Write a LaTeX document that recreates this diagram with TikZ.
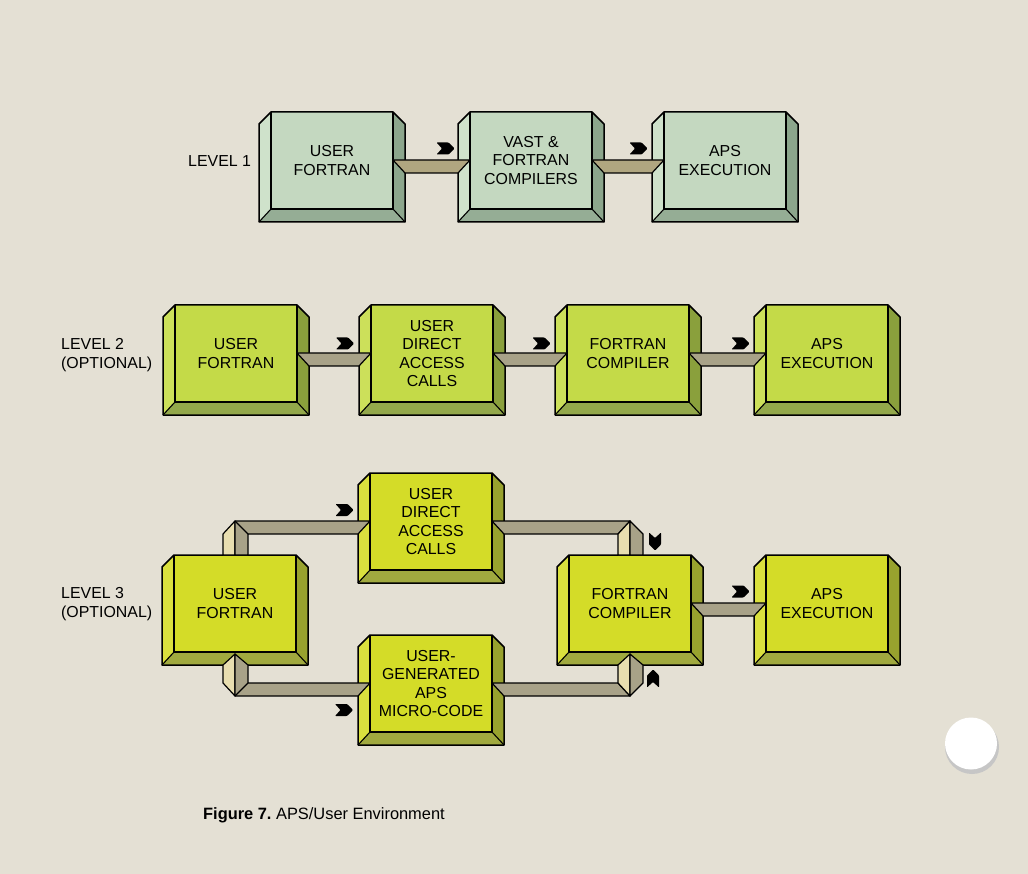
\documentclass[tikz,border=0pt]{standalone}
\usepackage{fontspec}
\setmainfont{Liberation Sans}
\usetikzlibrary{calc}
\frenchspacing
\definecolor{bg}{HTML}{E4E0D4}
\definecolor{faceA}{HTML}{C4D8C0}
\definecolor{lightA}{HTML}{CFE2CB}
\definecolor{darkA}{HTML}{8CA68C}
\definecolor{faceB}{HTML}{C4DA48}
\definecolor{lightB}{HTML}{CCE05A}
\definecolor{darkB}{HTML}{8AA03C}
\definecolor{faceC}{HTML}{D4DC28}
\definecolor{lightC}{HTML}{DAE03E}
\definecolor{darkC}{HTML}{98A22E}
\definecolor{barA}{HTML}{B0A680}
\definecolor{barB}{HTML}{A8A288}
\definecolor{cream}{HTML}{E8DEB0}
\tikzset{
  boxframe/.style={inner sep=0pt, outer sep=0pt, minimum width=146pt, minimum height=110pt},
  boxtext/.style={align=center, font=\fontsize{15.9}{18.3}\selectfont, inner sep=0pt},
  lbl/.style={align=left, font=\fontsize{15.9}{18.3}\selectfont, inner sep=0pt},
  outline/.style={draw=black, line width=1.5pt, line join=round},
  innerline/.style={draw=black, line width=1.1pt},
  barline/.style={draw=black, line width=1.2pt, line join=round},
  chev/.style={fill=black, rounded corners=0.8pt},
}
% #1 name, #2 left, #3 top, #4 face, #5 light, #6 dark, #7 text
\newcommand\bevbox[7]{%
  \node[boxframe, anchor=north west] (#1) at (#2,#3) {};
  \fill[#4] ({#2+12},#3) rectangle ({#2+134},{#3+97});
  \fill[#5] (#2,{#3+12}) -- ({#2+12},#3) -- ({#2+12},{#3+97}) -- (#2,{#3+110}) -- cycle;
  \fill[#6] ({#2+134},#3) -- ({#2+146},{#3+12}) -- ({#2+146},{#3+110}) -- ({#2+134},{#3+97}) -- cycle;
  \fill[#6!92!white] (#2,{#3+110}) -- ({#2+12},{#3+97}) -- ({#2+134},{#3+97}) -- ({#2+146},{#3+110}) -- cycle;
  \draw[innerline] ({#2+12},#3) -- ({#2+12},{#3+97}) -- ({#2+134},{#3+97}) -- ({#2+134},#3);
  \draw[innerline] ({#2+12},{#3+97}) -- (#2,{#3+110}) ({#2+134},{#3+97}) -- ({#2+146},{#3+110});
  \draw[outline] (#2,{#3+12}) -- ({#2+12},#3) -- ({#2+134},#3) -- ({#2+146},{#3+12}) -- ({#2+146},{#3+110}) -- (#2,{#3+110}) -- cycle;
  \node[boxtext] (#1-t) at ({#2+73},{#3+48.5}) {#7};
}
% horizontal connector from box #1 to box #2, fill #3
\newcommand\hconn[3]{%
  \draw[barline, fill=#3] ($(#1.north east)+(-12,48)$) -- ($(#2.north west)+(12,48)$)
     -- ($(#2.north west)+(0,61)$) -- ($(#1.north east)+(0,61)$) -- cycle;
}
% chevron arrow: x, y, rotation
\newcommand\chevr[3]{%
  \fill[chev, shift={(#1,#2)}, rotate=#3] (-9,-6) -- (3,-6) -- (9,0) -- (3,6) -- (-9,6) -- (-3.5,0) -- cycle;
}
\begin{document}
\begin{tikzpicture}[x=1pt, y=-1pt]
\fill[bg] (0,0) rectangle (1028,874);
\useasboundingbox (0,0) rectangle (1028,874);

% ---------- Level 1 ----------
\node[lbl, anchor=west] (lv1) at (188,161) {LEVEL 1};
\bevbox{a1}{259}{112}{faceA}{lightA}{darkA}{USER\\FORTRAN}
\bevbox{b1}{458}{112}{faceA}{lightA}{darkA}{VAST \&\\FORTRAN\\COMPILERS}
\bevbox{c1}{652}{112}{faceA}{lightA}{darkA}{APS\\EXECUTION}
\hconn{a1}{b1}{barA}
\hconn{b1}{c1}{barA}
\chevr{445.5}{148.5}{0}
\chevr{638.5}{148.5}{0}

% ---------- Level 2 ----------
\node[lbl, anchor=west] (lv2) at (61,355) {LEVEL 2\\(OPTIONAL)};
\bevbox{a2}{163}{305}{faceB}{lightB}{darkB}{USER\\FORTRAN}
\bevbox{b2}{359}{305}{faceB}{lightB}{darkB}{USER\\DIRECT\\ACCESS\\CALLS}
\bevbox{c2}{555}{305}{faceB}{lightB}{darkB}{FORTRAN\\COMPILER}
\bevbox{d2}{754}{305}{faceB}{lightB}{darkB}{APS\\EXECUTION}
\hconn{a2}{b2}{barB}
\hconn{b2}{c2}{barB}
\hconn{c2}{d2}{barB}
\chevr{345}{343.5}{0}
\chevr{541.5}{343.5}{0}
\chevr{740.5}{343.5}{0}

% ---------- Level 3 ----------
\node[lbl, anchor=west] (lv3) at (61,604) {LEVEL 3\\(OPTIONAL)};
\bevbox{u3}{162}{555}{faceC}{lightC}{darkC}{USER\\FORTRAN}
\bevbox{t3}{358}{473}{faceC}{lightC}{darkC}{USER\\DIRECT\\ACCESS\\CALLS}
\bevbox{c3}{557}{555}{faceC}{lightC}{darkC}{FORTRAN\\COMPILER}
\bevbox{a3}{754}{555}{faceC}{lightC}{darkC}{APS\\EXECUTION}
\bevbox{g3}{358}{635}{faceC}{lightC}{darkC}{USER-\\GENERATED\\APS\\MICRO-CODE}
\hconn{c3}{a3}{barB}

% top-left elbow: u3 -> t3
\coordinate (e1) at ($(u3.north west)+(61,0)$);
\coordinate (e1y) at ($(t3.north west)+(0,48)$);
\draw[barline, fill=cream] ($(e1 |- e1y)+(0,13)$) -- ($(e1 |- e1y)+(12,0)$) -- ($(e1)+(12,0)$) -- (e1) -- cycle;
\draw[barline, fill=barB] ($(e1 |- e1y)+(12,0)$) -- ($(t3.north west)+(12,48)$) -- ($(t3.north west)+(0,61)$)
   -- ($(e1 |- e1y)+(25,13)$) -- ($(e1)+(25,0)$) -- ($(e1)+(12,0)$) -- cycle;
\draw[innerline] ($(e1 |- e1y)+(12,0)$) -- ($(e1 |- e1y)+(25,13)$);

% top-right elbow: t3 -> c3
\coordinate (e2) at ($(c3.north west)+(61,0)$);
\draw[barline, fill=barB] ($(t3.north east)+(-12,48)$) -- ($(e2 |- e1y)+(12,0)$) -- ($(e2 |- e1y)+(0,13)$) -- ($(t3.north east)+(0,61)$) -- cycle;
\draw[barline, fill=cream] ($(e2 |- e1y)+(0,13)$) -- ($(e2 |- e1y)+(12,0)$) -- ($(e2)+(12,0)$) -- (e2) -- cycle;
\draw[barline, fill=barB] ($(e2 |- e1y)+(12,0)$) -- ($(e2 |- e1y)+(25,13)$) -- ($(e2)+(25,0)$) -- ($(e2)+(12,0)$) -- cycle;

% bottom-left elbow: u3 -> g3
\coordinate (e3) at ($(u3.south west)+(61,0)$);
\coordinate (e3y) at ($(g3.north west)+(0,48)$);
\draw[barline, fill=cream] (e3) -- ($(e3)+(12,-11)$) -- ($(e3 |- e3y)+(12,13)$) -- (e3 |- e3y) -- cycle;
\draw[barline, fill=barB] ($(e3)+(12,-11)$) -- ($(e3)+(25,0)$) -- ($(e3 |- e3y)+(25,0)$) -- ($(g3.north west)+(12,48)$)
   -- ($(g3.north west)+(0,61)$) -- ($(e3 |- e3y)+(12,13)$) -- cycle;
\draw[innerline] ($(e3 |- e3y)+(25,0)$) -- ($(e3 |- e3y)+(12,13)$);

% bottom-right elbow: g3 -> c3
\coordinate (e4) at ($(c3.south west)+(61,0)$);
\draw[barline, fill=barB] ($(g3.north east)+(-12,48)$) -- (e4 |- e3y) -- ($(e4 |- e3y)+(12,13)$) -- ($(g3.north east)+(0,61)$) -- cycle;
\draw[barline, fill=cream] (e4) -- ($(e4)+(12,-11)$) -- ($(e4 |- e3y)+(12,13)$) -- (e4 |- e3y) -- cycle;
\draw[barline, fill=barB] ($(e4)+(12,-11)$) -- ($(e4)+(25,0)$) -- ($(e4 |- e3y)+(25,0)$) -- ($(e4 |- e3y)+(12,13)$) -- cycle;

% arrows level 3
\chevr{344.5}{510}{0}
\chevr{344}{710}{0}
\chevr{655}{541.5}{-90}
\chevr{653}{678.5}{90}
\chevr{740.5}{591.5}{0}

% caption
\node[anchor=west, inner sep=0pt, font=\fontsize{16.4}{19}\selectfont] (cap) at (203,815) {\textbf{Figure 7.} APS/User Environment};

% punched hole
\fill[gray!45] (972,747) circle (27pt);
\fill[white] (971,743.5) circle (26pt);
\end{tikzpicture}
\end{document}
